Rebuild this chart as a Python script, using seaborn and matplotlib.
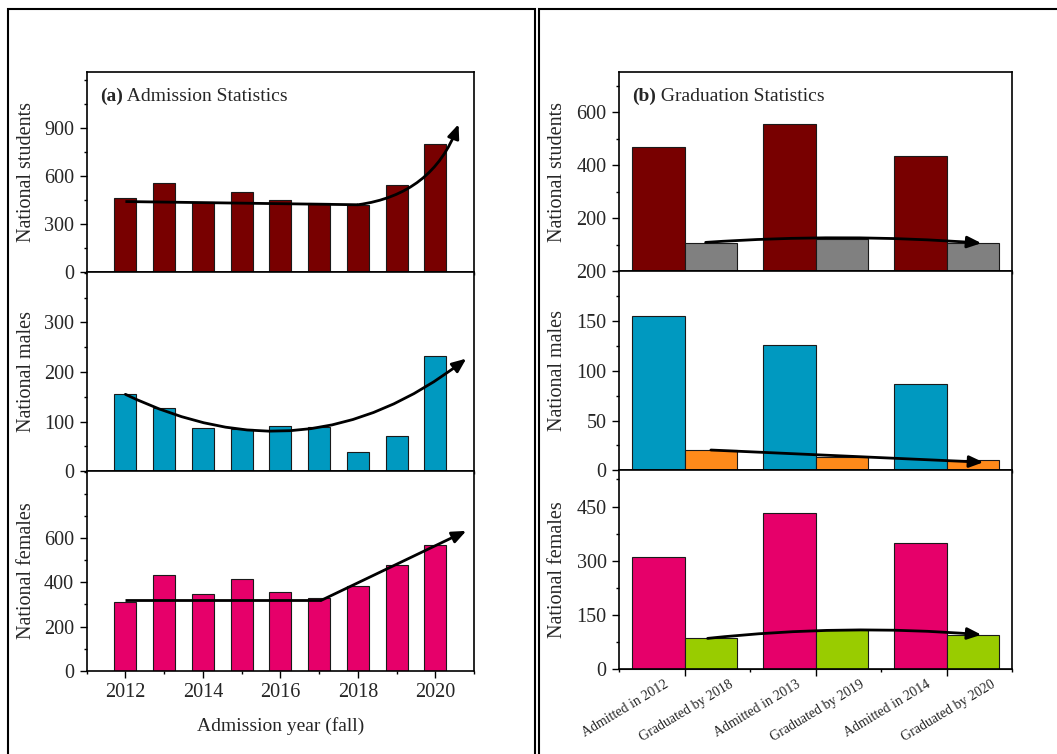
import pandas as pd
import seaborn as sns
import matplotlib.pyplot as plt
from matplotlib.patches import FancyArrowPatch, Rectangle
from matplotlib.ticker import MultipleLocator, FixedLocator
from matplotlib.transforms import ScaledTranslation

# ---- data ----
years = [2012, 2013, 2014, 2015, 2016, 2017, 2018, 2019, 2020]
adm_students = [465, 556, 438, 497, 448, 428, 421, 546, 803]
adm_males = [155, 127, 87, 85, 92, 90, 39, 72, 233]
adm_females = [312, 432, 348, 416, 356, 328, 383, 477, 570]

grad_labels = ['Admitted in 2012', 'Graduated by 2018', 'Admitted in 2013',
               'Graduated by 2019', 'Admitted in 2014', 'Graduated by 2020']
grad_kinds = ['Admitted', 'Graduated'] * 3
grad_students = [467, 107, 557, 120, 434, 107]
grad_males = [155, 20, 126, 13, 87, 10]
grad_females = [311, 87, 431, 110, 348, 96]

# trend arrows (x, y points; last segment is the arrow)
trend_adm_students = ([2012, 2018, 2020.6], [440, 420, 925])
trend_adm_males = ([2012, 2020.8], [155, 227])
trend_adm_females = ([2012, 2017.05, 2020.8], [318, 318, 633])
trend_grad_students = ([1.32, 5.53], [109, 106])
trend_grad_males = ([1.40, 5.56], [20.4, 8.1])
trend_grad_females = ([1.35, 5.53], [85.5, 95.6])

# ---- colours ----
maroon = '#780000'
blue = '#0099c0'
pink = '#e6006a'
grey = '#808080'
orange = '#ff8a1a'
green = '#99cc00'
edge = '#1a1a1a'

sns.set_style('ticks')
plt.rcParams['font.family'] = ['Liberation Serif', 'DejaVu Serif']

admission = pd.DataFrame({'year': years, 'students': adm_students,
                          'males': adm_males, 'females': adm_females})
graduation = pd.DataFrame({'label': grad_labels, 'kind': grad_kinds,
                           'students': grad_students, 'males': grad_males,
                           'females': grad_females})
# pairs of touching bars, one pair per two x units
graduation['x'] = [2 * (i // 2) + (0.6 if i % 2 == 0 else 1.4) for i in range(len(graduation))]


def style_axes(ax):
    for s in ax.spines.values():
        s.set_visible(True)
        s.set_linewidth(1.2)
        s.set_color('black')
    ax.tick_params(which='both', direction='out', top=False, right=False,
                   width=1, color='black', labelsize=14.5, pad=4)
    ax.tick_params(which='major', length=5)
    ax.tick_params(which='minor', length=2.5)
    ax.set_xlabel('')


def draw_trend(ax, trend, rad=0.0):
    xs, ys = trend
    if len(xs) > 2:
        ax.plot(xs[:-1], ys[:-1], color='black', lw=2, zorder=5,
                solid_capstyle='butt')
    arrow = FancyArrowPatch((xs[-2], ys[-2]), (xs[-1], ys[-1]),
                            connectionstyle=f'arc3,rad={rad}',
                            arrowstyle='-|>,head_length=0.6,head_width=0.25',
                            mutation_scale=14, lw=2, color='black',
                            shrinkA=0, shrinkB=0, zorder=6)
    ax.add_patch(arrow)


fig = plt.figure(figsize=(10.57, 7.54), dpi=100)

# outer frames of the two figure panels
fig.add_artist(Rectangle((0.008, -0.02), 0.4979, 1.0077, transform=fig.transFigure,
                         fill=False, lw=1.5, edgecolor='black'))
fig.add_artist(Rectangle((0.5099, -0.02), 0.52, 1.0077, transform=fig.transFigure,
                         fill=False, lw=1.5, edgecolor='black'))

gs_l = fig.add_gridspec(3, 1, left=0.0820, right=0.4485, top=0.9041,
                        bottom=0.1105, hspace=0)
gs_r = fig.add_gridspec(3, 1, left=0.5858, right=0.9576, top=0.9041,
                        bottom=0.1123, hspace=0)

# ---- (a) Admission statistics ----
left_specs = [
    ('students', maroon, 'National students', 1250, [0, 300, 600, 900], 150, trend_adm_students, 0.3),
    ('males', blue, 'National males', 402, [0, 100, 200, 300], 50, trend_adm_males, 0.31),
    ('females', pink, 'National females', 903, [0, 200, 400, 600], 100, trend_adm_females, 0.0),
]
for i, (col, color, ylab, ytop, yt, minor, trend, rad) in enumerate(left_specs):
    ax = fig.add_subplot(gs_l[i])
    sns.barplot(data=admission, x='year', y=col, orient='x', native_scale=True,
                width=0.57, color=color, edgecolor=edge, linewidth=0.8,
                saturation=1, ax=ax)
    style_axes(ax)
    ax.set_xlim(2011, 2021)
    ax.set_ylim(0, ytop)
    ax.xaxis.set_major_locator(MultipleLocator(2))
    ax.xaxis.set_minor_locator(MultipleLocator(1))
    ax.yaxis.set_major_locator(FixedLocator(yt))
    ax.yaxis.set_minor_locator(MultipleLocator(minor))
    ax.set_ylabel(ylab, fontsize=14.5)
    ax.yaxis.set_label_coords(-0.132, 0.5)
    draw_trend(ax, trend, rad)
    if i < 2:
        ax.tick_params(axis='x', labelbottom=False)
    else:
        ax.set_xlabel('Admission year (fall)', fontsize=14)
        ax.xaxis.set_label_coords(0.5, -0.235)
    if i == 0:
        t = ax.text(0.034, 0.877, '(a)', transform=ax.transAxes, fontsize=14,
                    fontweight='bold', va='center', ha='left')
        ax.annotate(' Admission Statistics', xy=(1, 0), xycoords=t,
                    fontsize=14, va='bottom', ha='left')

# ---- (b) Graduation statistics ----
right_specs = [
    ('students', maroon, grey, 'National students', 750, [0, 200, 400, 600],
     ['200', '200', '400', '600'], 100, trend_grad_students, -0.036),
    ('males', blue, orange, 'National males', 200, [0, 50, 100, 150],
     ['0', '50', '100', '150'], 25, trend_grad_males, 0.0),
    ('females', pink, green, 'National females', 550, [0, 150, 300, 450],
     ['0', '150', '300', '450'], 75, trend_grad_females, -0.047),
]
for i, (col, c_adm, c_grad, ylab, ytop, yt, ytl, minor, trend, rad) in enumerate(right_specs):
    ax = fig.add_subplot(gs_r[i])
    sns.barplot(data=graduation, x='x', y=col, hue='kind', orient='x',
                palette={'Admitted': c_adm, 'Graduated': c_grad},
                native_scale=True, width=1.0, dodge=False, legend=False,
                edgecolor=edge, linewidth=0.8, saturation=1, ax=ax)
    style_axes(ax)
    ax.set_xlim(0, 6)
    ax.set_ylim(0, ytop)
    ax.set_yticks(yt, ytl)
    ax.yaxis.set_minor_locator(MultipleLocator(minor))
    ax.set_xticks([1, 3, 5])
    ax.set_xticks([0, 2, 4, 6], minor=True)
    ax.tick_params(axis='x', labelbottom=False)
    ax.set_ylabel(ylab, fontsize=14.5)
    ax.yaxis.set_label_coords(-0.132, 0.5)
    draw_trend(ax, trend, rad)
    if i == 0:
        t = ax.text(0.032, 0.877, '(b)', transform=ax.transAxes, fontsize=14,
                    fontweight='bold', va='center', ha='left')
        ax.annotate(' Graduation Statistics', xy=(1, 0), xycoords=t,
                    fontsize=14, va='bottom', ha='left')
    if i == 2:
        sec = ax.secondary_xaxis('bottom')
        sec.set_xticks(graduation['x'], graduation['label'])
        sec.tick_params(axis='x', length=0, labelsize=10, pad=6)
        for lab, kind in zip(sec.get_xticklabels(), graduation['kind']):
            shift = 6 if kind == 'Admitted' else 18
            offset = ScaledTranslation(shift / 100, 0, fig.dpi_scale_trans)
            lab.set_rotation(31)
            lab.set_ha('right')
            lab.set_va('top')
            lab.set_rotation_mode('anchor')
            lab.set_transform(lab.get_transform() + offset)

fig.savefig('out.png', dpi=100)
